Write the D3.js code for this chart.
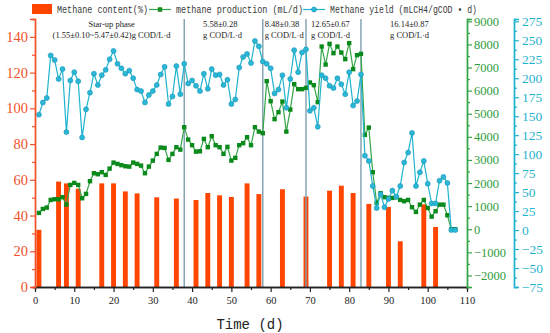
<!DOCTYPE html>
<html>
<head>
<meta charset="utf-8">
<script src="https://cdn.jsdelivr.net/npm/d3@7"></script>
<style>
  body { margin: 0; background: #fff; }
  svg { display: block; }
  .tick text { font-family: "Liberation Serif", "DejaVu Serif", serif; }
</style>
</head>
<body>
<div id="chart"></div>
<script>
// Chart size
const width = 550;
const height = 333;

// Bars: methane content (%)
const barDays = [1, 6, 8, 11, 17, 20, 23, 26, 31, 36, 41, 44, 47, 50, 54, 57, 63, 69, 75, 78, 81, 85, 90, 93, 99, 102];
const methaneContent = [32, 59, 58, 55, 58, 58, 53.5, 52.4, 50.2, 49.5, 48.7, 52.6, 51.3, 50.4, 58, 52, 54.7, 50.6, 53.9, 56.7, 52.6, 46.5, 44.8, 25.6, 46.3, 33.6];

// Daily series, days 1..107
const days = d3.range(1, 108);
const methaneProduction = [
  706, 879, 937, 1269, 1299, 1299, 1386, 1067, 1919, 2005,
  1919, 1342, 1529, 2079, 2425, 2382, 2469, 2352, 2624, 2884,
  2828, 2772, 2728, 2711, 2884, 2828, 2754, 2425, 2711, 2971,
  3261, 3534, 3520, 3001, 3261, 3551, 3447, 4417, 3880, 3638,
  3361, 3375, 3911, 3551, 4028, 3638, 3551, 3261, 3565, 2971,
  3088, 3638, 3725, 3984, 3638, 4417, 4227, 4158, 6409, 5543,
  4764, 5067, 5527, 4227, 5180, 6280, 6063, 6063, 6120, 6351,
  6236, 5500, 7908, 7129, 8025, 7622, 7908, 7648, 7362, 8055,
  6929, 7535, 7592, 4084, 4400, 2469, 1139, 1559, 1386, 1356,
  1356, 1386, 1269, 1213, 1269, 953, 749, 1065, 1269, 922,
  546, 780, 1065, 1065, 606, 0, 0
];
const methaneYield = [
  152, 168, 174, 230, 224, 199, 212, 129, 197, 208,
  196, 122, 159, 181, 206, 191, 204, 211, 225, 236,
  219, 213, 206, 210, 200, 185, 183, 168, 178, 183,
  191, 205, 215, 166, 176, 216, 179, 219, 193, 197,
  190, 183, 206, 186, 212, 204, 205, 191, 198, 166,
  172, 214, 228, 232, 220, 249, 242, 222, 219, 213,
  180, 185, 204, 161, 199, 237, 208, 234, 238, 157,
  161, 136, 204, 200, 190, 187, 200, 192, 179, 208,
  164, 170, 205, 98, 91, 58, 29, 47, 30, 41,
  52, 44, 58, 89, 102, 128, 58, 76, 91, 61,
  35, 35, 65, 70, 62, 0, 0
];

// Phase boundaries and labels
const phaseDays = [38, 58, 69, 83];
const phaseLabels = [
  { day: 19.5, anchor: "middle", lines: ["Star-up phase", "(1.55±0.10~5.47±0.42)g COD/L·d"] },
  { day: 42.8, anchor: "start", lines: ["5.58±0.28", "g COD/L·d"] },
  { day: 58.5, anchor: "start", lines: ["8.48±0.38", "g COD/L·d"] },
  { day: 70.3, anchor: "start", lines: ["12.65±0.67", "g COD/L·d"] },
  { day: 90.4, anchor: "start", lines: ["16.14±0.87", "g COD/L·d"] }
];

const cOrange = "#ff4500";
const cOrangeAxis = "#f0532c";
const cGreen = "#35a548";
const cGreenDark = "#0b8a1c";
const cCyan = "#1fb3cf";

const svg = d3.select("#chart").append("svg")
  .attr("width", width)
  .attr("height", height);

const x = d3.scaleLinear().domain([0, 110]).range([35, 467]);
const yLeft = d3.scaleLinear().domain([0, 150]).range([287, 19]);
const yGreen = d3.scaleLinear().domain([-2500, 9100]).range([287, 19]);
const yCyan = d3.scaleLinear().domain([-75, 278]).range([287, 19]);

// bars
const barW = x(1.25) - x(0);
svg.append("g").selectAll("rect")
  .data(barDays)
  .enter().append("rect")
  .attr("x", d => x(d) - barW / 2)
  .attr("y", (d, i) => yLeft(methaneContent[i]))
  .attr("width", barW)
  .attr("height", (d, i) => yLeft(0) - yLeft(methaneContent[i]))
  .attr("fill", cOrange);

// phase separators
svg.append("g").selectAll("line")
  .data(phaseDays)
  .enter().append("line")
  .attr("x1", d => x(d)).attr("x2", d => x(d))
  .attr("y1", 19).attr("y2", 287)
  .attr("stroke", "#7e9fae")
  .attr("stroke-width", 1.4);

// phase annotations
phaseLabels.forEach(p => {
  p.lines.forEach((t, j) => {
    svg.append("text")
      .attr("x", x(p.day))
      .attr("y", 27 + j * 11)
      .attr("text-anchor", p.anchor)
      .style("font-family", "'Liberation Serif', serif")
      .attr("font-size", 8.5)
      .attr("fill", "#222")
      .text(t);
  });
});

// green series
const greenLine = d3.line()
  .x((d, i) => x(days[i]))
  .y(d => yGreen(d));
svg.append("path")
  .datum(methaneProduction)
  .attr("d", greenLine)
  .attr("fill", "none")
  .attr("stroke", cGreen)
  .attr("stroke-width", 1.2);
svg.append("g").selectAll("rect")
  .data(methaneProduction)
  .enter().append("rect")
  .attr("x", (d, i) => x(days[i]) - 2.2)
  .attr("y", d => yGreen(d) - 2.2)
  .attr("width", 4.4)
  .attr("height", 4.4)
  .attr("fill", cGreenDark);

// cyan series
const cyanLine = d3.line()
  .x((d, i) => x(days[i]))
  .y(d => yCyan(d));
svg.append("path")
  .datum(methaneYield)
  .attr("d", cyanLine)
  .attr("fill", "none")
  .attr("stroke", cCyan)
  .attr("stroke-width", 1.2);
svg.append("g").selectAll("circle")
  .data(methaneYield)
  .enter().append("circle")
  .attr("cx", (d, i) => x(days[i]))
  .attr("cy", d => yCyan(d))
  .attr("r", 2.5)
  .attr("fill", "#2bb7d6")
  .attr("stroke", "#1796b8")
  .attr("stroke-width", 0.6);

// axes helper
function styleAxis(g, color, fontSize) {
  g.attr("font-family", null);
  g.select(".domain").attr("stroke", color).attr("stroke-width", 1.4);
  g.selectAll(".tick line").attr("stroke", color).attr("stroke-width", 1.2);
  g.selectAll(".tick text")
    .attr("fill", color)
    .attr("font-size", fontSize);
}
const fmt = d3.format("d");

// bottom axis
const xMinor = svg.append("g")
  .attr("transform", "translate(0,287)")
  .call(d3.axisBottom(x).tickValues(d3.range(5, 110, 10)).tickSize(3).tickFormat(""));
styleAxis(xMinor, "#222", 10);
const xAxis = svg.append("g")
  .attr("transform", "translate(0,287)")
  .call(d3.axisBottom(x).tickValues(d3.range(0, 111, 10)).tickSize(5).tickPadding(5).tickFormat(fmt));
styleAxis(xAxis, "#222", 10.5);
xAxis.select(".domain").attr("d", "M33,0.5H467");

// left axis
const lMinor = svg.append("g")
  .attr("transform", "translate(35,0)")
  .call(d3.axisLeft(yLeft).tickValues(d3.range(10, 150, 20)).tickSize(3).tickFormat(""));
styleAxis(lMinor, cOrangeAxis, 14);
const lAxis = svg.append("g")
  .attr("transform", "translate(35,0)")
  .call(d3.axisLeft(yLeft).tickValues(d3.range(0, 141, 20)).tickSize(5).tickPadding(2).tickFormat(fmt));
styleAxis(lAxis, cOrangeAxis, 14.5);

// green right axis
const gMinor = svg.append("g")
  .attr("transform", "translate(467,0)")
  .call(d3.axisRight(yGreen).tickValues(d3.range(-2500, 9000, 1000)).tickSize(3).tickFormat(""));
styleAxis(gMinor, cGreen, 12);
const gAxis = svg.append("g")
  .attr("transform", "translate(467,0)")
  .call(d3.axisRight(yGreen).tickValues(d3.range(-2000, 9001, 1000)).tickSize(5).tickPadding(2).tickFormat(fmt));
styleAxis(gAxis, cGreen, 12.5);
gAxis.selectAll(".tick text").attr("fill", "#2f9c40");

// cyan right axis
const cMinor = svg.append("g")
  .attr("transform", "translate(514,0)")
  .call(d3.axisRight(yCyan).tickValues(d3.range(-62.5, 275, 25)).tickSize(3).tickFormat(""));
styleAxis(cMinor, cCyan, 13);
const cAxis = svg.append("g")
  .attr("transform", "translate(514,0)")
  .call(d3.axisRight(yCyan).tickValues(d3.range(-75, 276, 25)).tickSize(5).tickPadding(3).tickFormat(fmt));
styleAxis(cAxis, cCyan, 13.5);

// x title
svg.append("text")
  .attr("x", 250)
  .attr("y", 329)
  .attr("text-anchor", "middle")
  .style("font-family", "'Liberation Mono', monospace")
  .attr("font-size", 14)
  .attr("fill", "#222")
  .text("Time (d)");

// legend
const legend = svg.append("g").style("font-family", "'Liberation Mono', monospace").attr("font-size", 10).attr("fill", "#3a3a3a");
legend.append("rect").attr("x", 32).attr("y", 4).attr("width", 20).attr("height", 10).attr("fill", cOrange);
legend.append("text").attr("x", 57).attr("y", 13).attr("textLength", 91).attr("lengthAdjust", "spacingAndGlyphs")
  .text("Methane content(%)");
legend.append("line").attr("x1", 149).attr("x2", 171).attr("y1", 9.5).attr("y2", 9.5)
  .attr("stroke", cGreen).attr("stroke-width", 1.2);
legend.append("rect").attr("x", 157.8).attr("y", 7.3).attr("width", 4.4).attr("height", 4.4).attr("fill", cGreenDark);
legend.append("text").attr("x", 176).attr("y", 13).attr("textLength", 127).attr("lengthAdjust", "spacingAndGlyphs")
  .text("methane production (mL/d)");
legend.append("line").attr("x1", 303).attr("x2", 325).attr("y1", 9.5).attr("y2", 9.5)
  .attr("stroke", cCyan).attr("stroke-width", 1.2);
legend.append("circle").attr("cx", 314).attr("cy", 9.5).attr("r", 2.5)
  .attr("fill", "#2bb7d6").attr("stroke", "#1796b8").attr("stroke-width", 0.6);
legend.append("text").attr("x", 330).attr("y", 13).attr("textLength", 147).attr("lengthAdjust", "spacingAndGlyphs")
  .text("Methane yield (mLCH4/gCOD • d)");
</script>
</body>
</html>
